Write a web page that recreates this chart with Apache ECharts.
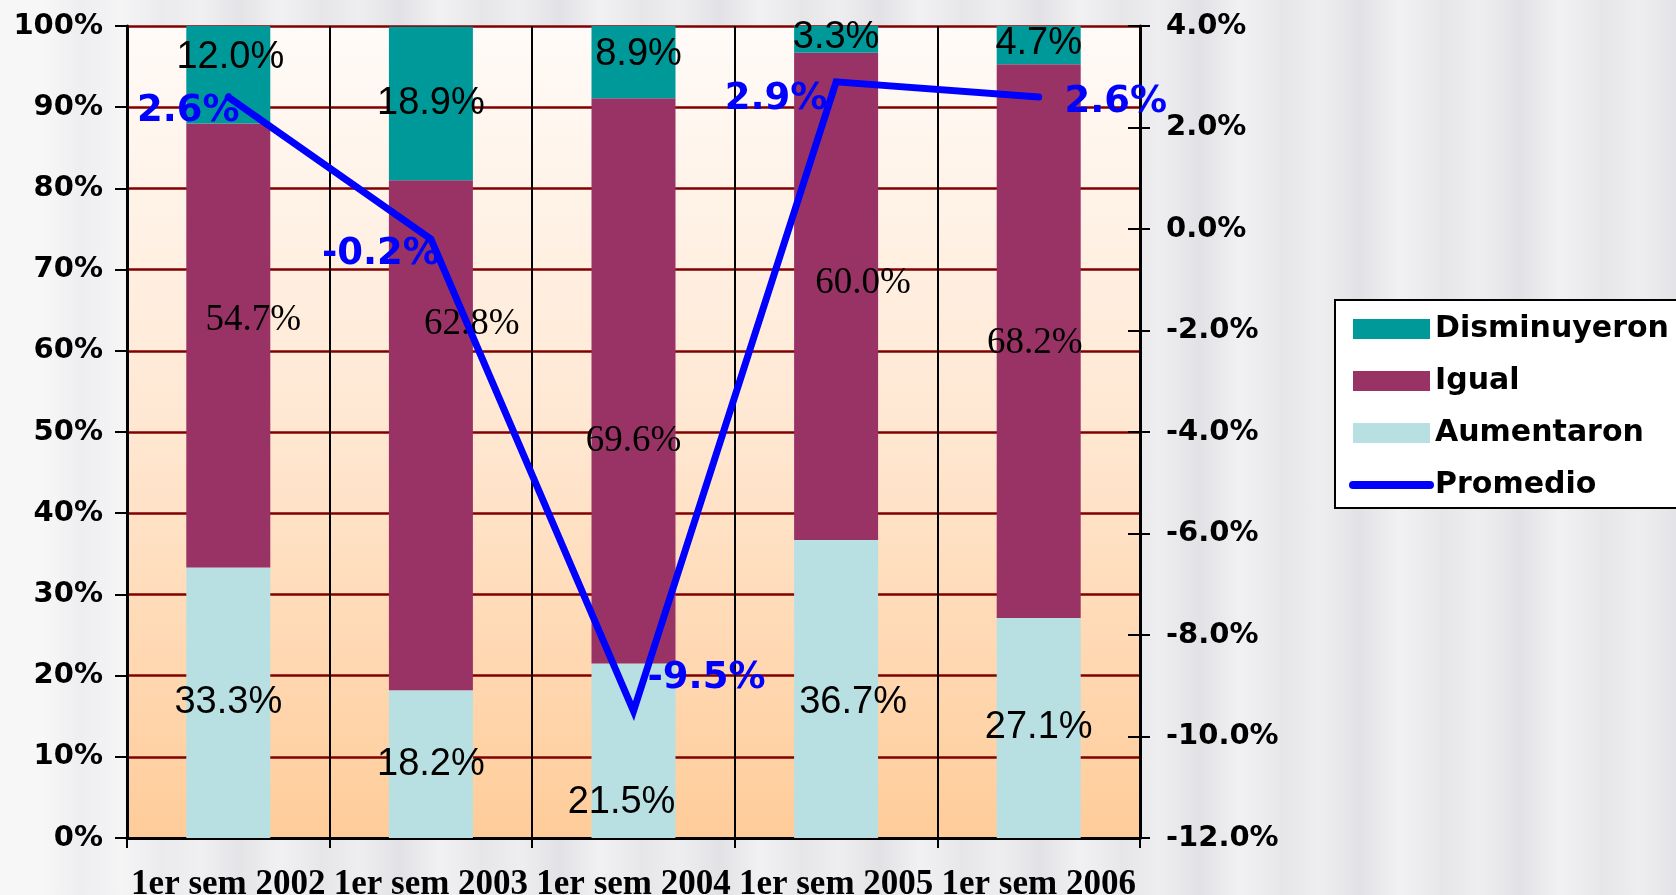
<!DOCTYPE html>
<html>
<head>
<meta charset="utf-8">
<script src="https://cdn.jsdelivr.net/npm/echarts@6/dist/echarts.min.js"></script>
<style>
html,body{margin:0;padding:0;width:1676px;height:895px;overflow:hidden;}
body{background:
 linear-gradient(90deg, rgba(255,255,255,0.7) 0px, rgba(255,255,255,0.2) 140px, rgba(255,255,255,0) 300px),
 repeating-linear-gradient(90deg, #e6e6e9 0px, #eeeef0 40px, #e2e2e6 80px, #f1f1f3 120px, #e8e8eb 160px),
 #e9e9ec;}
#c{width:1676px;height:895px;}
</style>
</head>
<body>
<div id="c"></div>
<script>
// ---- data ----
var categories = ['1er sem 2002','1er sem 2003','1er sem 2004','1er sem 2005','1er sem 2006'];
var aumentaron   = [33.3, 18.2, 21.5, 36.7, 27.1];
var igual        = [54.7, 62.8, 69.6, 60.0, 68.2];
var disminuyeron = [12.0, 18.9, 8.9, 3.3, 4.7];
var promedio     = [2.6, -0.2, -9.5, 2.9, 2.6];
var leftTicks  = {min: 0, max: 100, interval: 10};
var rightTicks = {min: -12, max: 4, interval: 2};

// ---- label placement (style only) ----
var offAum = [[0,0],[0,0],[-12,52],[17,14],[0,0]];
var offIg  = [[25,-25],[41,-111],[0,60],[27,-13],[-4,2]];
var offDis = [[2,-17],[0,0],[5,-8],[0,-2],[0,-2]];
var offProm = [[-40,14],[-50,15],[73,-33],[-60,18],[77,5]];

function items(vals, offs) {
  return vals.map(function (v, i) { return {value: v, label: {offset: offs[i]}}; });
}
var pct1 = function (p) { return p.value.toFixed(1) + '%'; };

var chart = echarts.init(document.getElementById('c'), null, {renderer: 'canvas'});
var sansLabel = {show: true, position: 'inside', formatter: pct1, color: '#000',
  fontFamily: 'Liberation Sans', fontSize: 38, fontWeight: 'normal'};
var serifLabel = {show: true, position: 'inside', formatter: pct1, color: '#000',
  fontFamily: 'Liberation Serif', fontSize: 37, fontWeight: 'normal'};

chart.setOption({
  backgroundColor: 'transparent',
  animation: false,
  grid: {left: 127, right: 536, top: 26, bottom: 57, containLabel: false, outerBoundsMode: 'none',
    show: true, borderWidth: 0,
    backgroundColor: {type: 'linear', x: 0, y: 0, x2: 0, y2: 1,
      colorStops: [{offset: 0, color: '#FFFBF8'}, {offset: 0.5, color: '#FFE7D1'}, {offset: 1, color: '#FFCC99'}]}},
  legend: {
    orient: 'vertical', left: 1335, top: 300,
    data: [{name: 'Disminuyeron', icon: 'rect'}, {name: 'Igual', icon: 'rect'},
           {name: 'Aumentaron', icon: 'rect'}, {name: 'Promedio', itemStyle: {opacity: 0}}],
    itemWidth: 77, itemHeight: 20, itemGap: 22,
    padding: [14, 30, 8, 14],
    lineStyle: {width: 8, cap: 'round'},
    backgroundColor: '#fff', borderColor: '#000', borderWidth: 2, borderRadius: 0,
    textStyle: {fontFamily: 'DejaVu Sans', fontWeight: 'bold', fontSize: 30, color: '#000'}
  },
  xAxis: {
    type: 'category', data: categories, boundaryGap: true,
    axisLine: {lineStyle: {color: '#000', width: 3}},
    axisTick: {show: true, alignWithLabel: false, length: 10, lineStyle: {color: '#000', width: 2}},
    splitLine: {show: true, lineStyle: {color: '#000', width: 2}},
    axisLabel: {interval: 0, margin: 29, color: '#000', fontFamily: 'Liberation Serif',
      fontWeight: 'bold', fontSize: 35}
  },
  yAxis: [
    {type: 'value', min: leftTicks.min, max: leftTicks.max, interval: leftTicks.interval, position: 'left',
      axisLine: {show: true, lineStyle: {color: '#000', width: 3}},
      axisTick: {show: true, length: 12, lineStyle: {color: '#000', width: 2}},
      splitLine: {show: true, lineStyle: {color: '#800000', width: 2.5}},
      axisLabel: {margin: 24, color: '#000', fontFamily: 'DejaVu Sans', fontWeight: 'bold', fontSize: 29,
        formatter: '{value}%'}},
    {type: 'value', min: rightTicks.min, max: rightTicks.max, interval: rightTicks.interval, position: 'right',
      axisLine: {show: true, lineStyle: {color: '#000', width: 3}},
      axisTick: {show: true, length: 10, lineStyle: {color: '#000', width: 2}},
      splitLine: {show: false},
      axisLabel: {margin: 26, color: '#000', fontFamily: 'DejaVu Sans', fontWeight: 'bold', fontSize: 29,
        formatter: function (v) { return v.toFixed(1) + '%'; }}},
    {type: 'value', min: rightTicks.min, max: rightTicks.max, interval: rightTicks.interval, position: 'right',
      axisLine: {show: false}, axisLabel: {show: false}, splitLine: {show: false},
      axisTick: {show: true, inside: true, length: 12, lineStyle: {color: '#000', width: 2}}}
  ],
  series: [
    {name: 'Aumentaron', type: 'bar', stack: 's', barWidth: 84, itemStyle: {color: '#B8E0E2'},
      label: sansLabel, data: items(aumentaron, offAum)},
    {name: 'Igual', type: 'bar', stack: 's', barWidth: 84, itemStyle: {color: '#993366'},
      label: serifLabel, data: items(igual, offIg)},
    {name: 'Disminuyeron', type: 'bar', stack: 's', barWidth: 84, itemStyle: {color: '#009999'},
      label: sansLabel, data: items(disminuyeron, offDis)},
    {name: 'Promedio', type: 'line', yAxisIndex: 1, symbol: 'circle', symbolSize: 1,
      itemStyle: {color: '#0000FF'},
      lineStyle: {color: '#0000FF', width: 7, join: 'miter', cap: 'round'},
      label: {show: true, position: 'inside', formatter: pct1, color: '#0000FF',
        fontFamily: 'DejaVu Sans', fontWeight: 'bold', fontSize: 37},
      data: items(promedio, offProm), z: 5}
  ]
});
</script>
</body>
</html>
